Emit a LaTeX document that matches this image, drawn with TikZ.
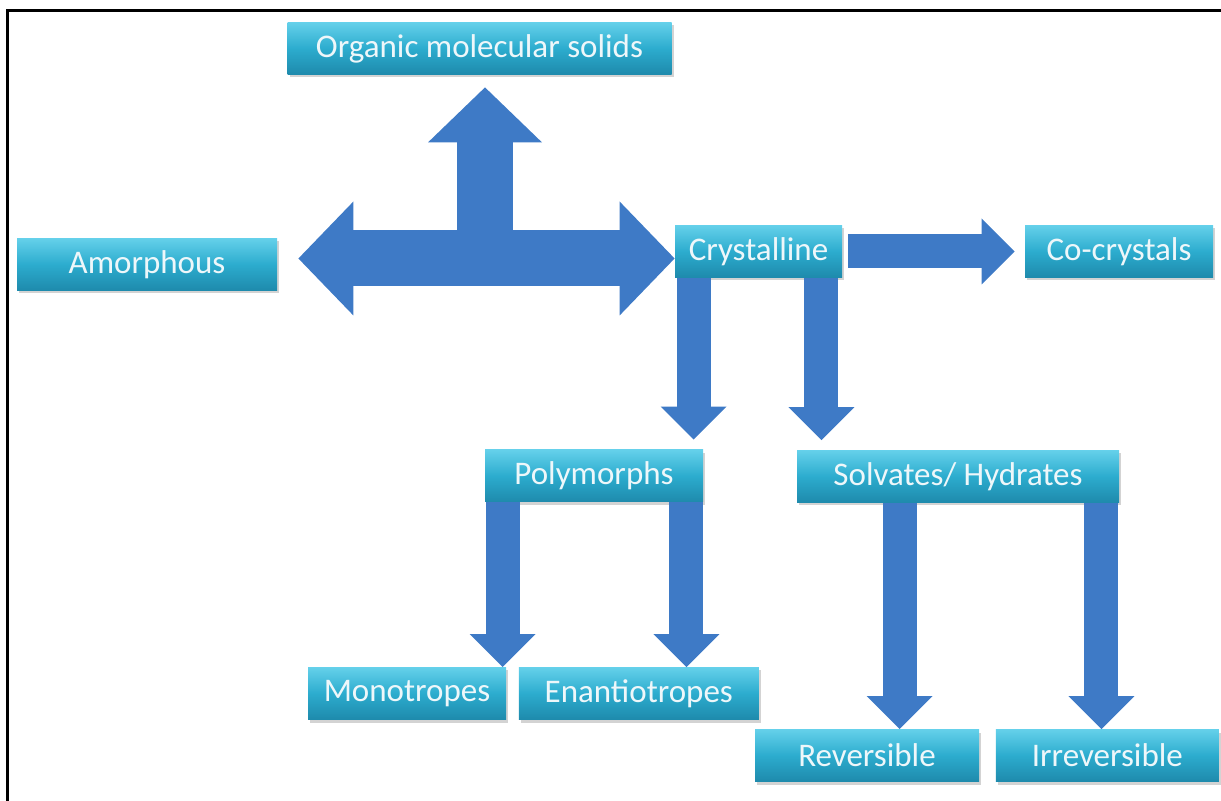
\documentclass[tikz,border=0pt]{standalone}
\usepackage{fontspec}
\setmainfont{Carlito}
\usetikzlibrary{arrows.meta, positioning, shadows}
\definecolor{boxtop}{RGB}{100,208,234}
\definecolor{boxmid}{RGB}{44,172,206}
\definecolor{boxbot}{RGB}{30,138,172}
\definecolor{arrowblue}{RGB}{62,122,198}
\definecolor{boxtext}{RGB}{238,247,250}

\tikzset{
  box/.style={rectangle, top color=boxtop, bottom color=boxbot, middle color=boxmid,
    text=boxtext, font=\fontsize{16.5}{19}\selectfont, minimum height=26pt, inner sep=2pt,
    drop shadow={opacity=0.35, shadow xshift=1pt, shadow yshift=-1.5pt}},
  bigtip/.tip={Triangle[length=27.5pt, width=57pt, line width=0pt]},
  smalltip/.tip={Triangle[length=16.5pt, width=33pt, line width=0pt]},
  bigarrow/.style={draw=arrowblue, line width=28pt},
  smallarrow/.style={draw=arrowblue, line width=17pt, -smalltip},
}

\begin{document}
\begin{tikzpicture}[x=0.5pt, y=-0.5pt]
    \useasboundingbox (0,0) rectangle (1221,801);
    % frame
    \draw[line width=1.5pt] (7,801) -- (7,11) -- (1221,11);

    % top row
    \node[box, minimum width=192pt] (organic) at (479.5,48.5) {Organic molecular solids};
    \node[box, minimum width=130pt] (amorph) at (147,264.5) {Amorphous};
    \node[box, minimum width=83.5pt] (cryst) at (758.5,251.5) {Crystalline};
    \node[box, minimum width=94pt] (cocryst) at (1119,251.5) {Co-crystals};

    % second row
    \node[box, minimum width=109pt] (poly) at (594,476) {Polymorphs};
    \node[box, minimum width=161pt] (solv) at (958,476.5) {Solvates/ Hydrates};

    % bottom rows
    \node[box, minimum width=99pt] (mono) at (407,693.5) {Monotropes};
    \node[box, minimum width=120pt, right=6pt of mono] (enantio) {Enantiotropes};
    \node[box, minimum width=112pt] (rev) at (867,755.5) {Reversible};
    \node[box, minimum width=111.5pt, right=8pt of rev] (irrev) {Irreversible};

    % T-shaped arrow
    \coordinate (hub) at (485,258.5);
    \draw[bigarrow, bigtip-bigtip, shorten <=10.5pt] (amorph.east |- hub) -- (cryst.west |- hub);
    \draw[bigarrow, -bigtip, shorten >=6.25pt] (hub) -- (hub |- organic.south);

    % arrows out of Crystalline
    \draw[smallarrow, shorten <=3pt, shorten >=5pt] (cryst.east) -- (cocryst.west);
    \draw[smallarrow, shorten >=5pt] ([xshift=9.5pt]cryst.south west) -- ([xshift=9.5pt]cryst.south west |- poly.north);
    \draw[smallarrow, shorten >=5pt] ([xshift=-10.5pt]cryst.south east) -- ([xshift=-10.5pt]cryst.south east |- solv.north);

    % arrows out of Polymorphs
    \draw[smallarrow] ([xshift=9pt]poly.south west) -- ([xshift=9pt]poly.south west |- mono.north);
    \draw[smallarrow] ([xshift=-8.5pt]poly.south east) -- ([xshift=-8.5pt]poly.south east |- enantio.north);

    % arrows out of Solvates/ Hydrates
    \draw[smallarrow] ([xshift=51.5pt]solv.south west) -- ([xshift=51.5pt]solv.south west |- rev.north);
    \draw[smallarrow] ([xshift=-9pt]solv.south east) -- ([xshift=-9pt]solv.south east |- irrev.north);
\end{tikzpicture}
\end{document}
